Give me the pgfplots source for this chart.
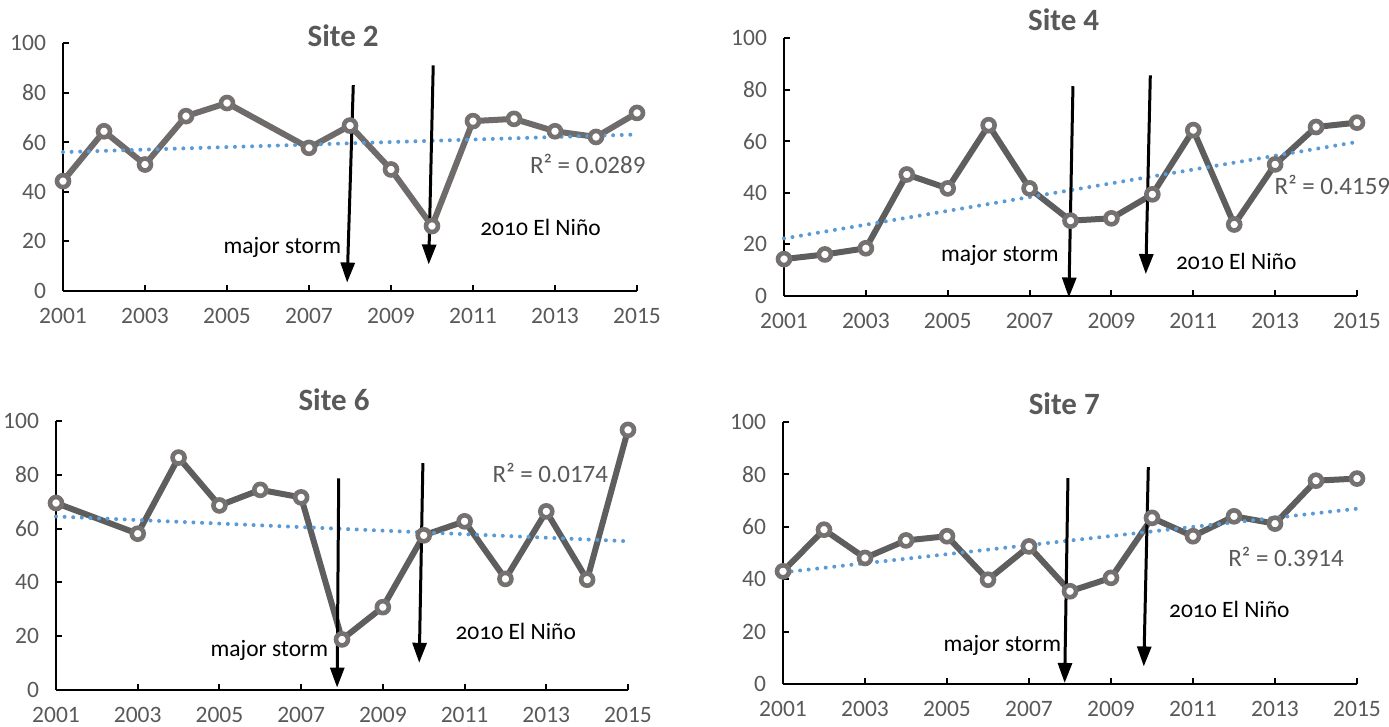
\documentclass[border=0pt]{standalone}
\usepackage{fontspec}
\setmainfont{Carlito}
\usepackage{pgfplots}
\pgfplotsset{compat=1.18}
\usetikzlibrary{arrows.meta}
\definecolor{txtgray}{HTML}{595959}
\definecolor{linegray}{HTML}{5E5E5E}
\definecolor{lightline}{HTML}{6F6B6B}
\definecolor{markgray}{HTML}{767171}
\definecolor{trendblue}{HTML}{5B9BD5}

\pgfplotsset{
  sitestyle/.style={
    scale only axis, clip=false,
    xmin=2001, xmax=2015, ymin=0, ymax=100,
    axis x line*=bottom, axis y line*=left,
    axis line style={black, line width=1pt, -},
    xtick={2001,2003,...,2015}, ytick={0,20,...,100},
    tick align=inside, major tick length=3pt,
    tick style={black, line width=1pt},
    /pgf/number format/assume math mode=true,
    x tick label style={/pgf/number format/1000 sep={}, yshift=-5pt},
    y tick label style={xshift=-5pt},
    ticklabel style={font=\fontsize{11.75}{14}\selectfont, text=txtgray},
    every axis title shift=0pt,
    title style={anchor=center, font=\bfseries\fontsize{15.5}{18}\selectfont, text=txtgray},
  },
  dataline/.style={linegray, line width=3pt, mark=*, mark size=3pt,
    mark options={fill=white, draw=markgray, line width=2.3pt}},
  trend/.style={trendblue, line width=2pt, line cap=round, dash pattern=on 0pt off 4.3pt},
}
\tikzset{evarrow/.style={black, line width=1.5pt, -{Triangle[width=7pt,length=10pt]}}}
\newcommand{\annfont}{\fontsize{11.75}{14}\selectfont}

\begin{document}
\begin{tikzpicture}
\useasboundingbox (0,0) rectangle (694.5pt,363.5pt);

% ---------------- Site 2 ----------------
\begin{axis}[sitestyle, at={(31.5pt,218pt)}, anchor=south west,
  width=287pt, height=124pt,
  title={Site 2}, title style={at={(axis description cs:0.488,1.028)}}]
\addplot[dataline, lightline] table {
x y
2001 44.3
2002 64.4
2003 51.0
2004 70.5
2005 75.8
2007 57.7
2008 66.7
2009 49.0
2010 26.2
2011 68.5
2012 69.4
2013 64.4
2014 62.1
2015 71.8
};
\addplot[trend] coordinates {(2001,56.0) (2015,63.1)};
\node[text=txtgray, font=\fontsize{12.5}{14}\selectfont] at (axis cs:2013.8,51.4) {R² = 0.0289};
\node[anchor=east, inner sep=1pt, font=\annfont] at (axis cs:2007.84,17.4) {major storm};
\node[anchor=west, inner sep=1pt, font=\annfont\addfontfeatures{Numbers=OldStyle}] at (axis cs:2011.12,25.5) {2010 El Niño};
\draw[evarrow] (axis cs:2008.08,83) -- (axis cs:2007.93,3.4);
\draw[evarrow] (axis cs:2010.03,91) -- (axis cs:2009.92,10.7);
\end{axis}

% ---------------- Site 4 ----------------
\begin{axis}[sitestyle, at={(392pt,215.5pt)}, anchor=south west,
  width=286.5pt, height=129pt,
  title={Site 4}, title style={at={(axis description cs:0.488,1.07)}}]
\addplot[dataline] table {
x y
2001 14.3
2002 16.1
2003 18.5
2004 47.1
2005 41.7
2006 66.2
2007 41.7
2008 29.2
2009 30.1
2010 39.4
2011 64.3
2012 27.7
2013 51.0
2014 65.5
2015 67.2
};
\addplot[trend] coordinates {(2001,22.3) (2015,59.7)};
\node[text=txtgray, font=\fontsize{12.5}{14}\selectfont] at (axis cs:2014.4,43.0) {R² = 0.4159};
\node[anchor=east, inner sep=1pt, font=\annfont] at (axis cs:2007.77,15.9) {major storm};
\node[anchor=west, inner sep=1pt, font=\annfont\addfontfeatures{Numbers=OldStyle}] at (axis cs:2010.52,13.5) {2010 El Niño};
\draw[evarrow] (axis cs:2008.06,81.3) -- (axis cs:2007.96,-0.6);
\draw[evarrow] (axis cs:2009.95,85.5) -- (axis cs:2009.84,8.5);
\end{axis}

% ---------------- Site 6 ----------------
\begin{axis}[sitestyle, at={(28pt,18.5pt)}, anchor=south west,
  width=286pt, height=134.5pt,
  title={Site 6}, title style={at={(axis description cs:0.486,1.078)}}]
\addplot[dataline] table {
x y
2001 69.5
2003 58.1
2004 86.4
2005 68.6
2006 74.4
2007 71.6
2008 18.8
2009 30.8
2010 57.5
2011 62.7
2012 41.3
2013 66.4
2014 41.0
2015 96.7
};
\addplot[trend] coordinates {(2001,64.5) (2015,55.3)};
\node[text=txtgray, font=\fontsize{12.5}{14}\selectfont] at (axis cs:2013.1,80.8) {R² = 0.0174};
\node[anchor=east, inner sep=1pt, font=\annfont] at (axis cs:2007.72,14.7) {major storm};
\node[anchor=west, inner sep=1pt, font=\annfont\addfontfeatures{Numbers=OldStyle}] at (axis cs:2010.72,21.9) {2010 El Niño};
\draw[evarrow] (axis cs:2007.92,78.7) -- (axis cs:2007.88,0.9);
\draw[evarrow] (axis cs:2009.98,84.3) -- (axis cs:2009.89,10.1);
\end{axis}

% ---------------- Site 7 ----------------
\begin{axis}[sitestyle, at={(391.5pt,21.5pt)}, anchor=south west,
  width=287pt, height=131pt,
  title={Site 7}, title style={at={(axis description cs:0.49,1.069)}}]
\addplot[dataline] table {
x y
2001 43.0
2002 58.9
2003 48.1
2004 54.8
2005 56.4
2006 39.8
2007 52.5
2008 35.4
2009 40.5
2010 63.4
2011 56.4
2012 64.0
2013 61.2
2014 77.6
2015 78.4
};
\addplot[trend] coordinates {(2001,42.6) (2015,66.9)};
\node[text=txtgray, font=\fontsize{12.5}{14}\selectfont] at (axis cs:2013.27,48.5) {R² = 0.3914};
\node[anchor=east, inner sep=1pt, font=\annfont] at (axis cs:2007.84,14.6) {major storm};
\node[anchor=west, inner sep=1pt, font=\annfont\addfontfeatures{Numbers=OldStyle}] at (axis cs:2010.36,28.6) {2010 El Niño};
\draw[evarrow] (axis cs:2007.95,78.6) -- (axis cs:2007.87,0.4);
\draw[evarrow] (axis cs:2009.91,82.8) -- (axis cs:2009.80,6.7);
\end{axis}
\end{tikzpicture}
\end{document}
